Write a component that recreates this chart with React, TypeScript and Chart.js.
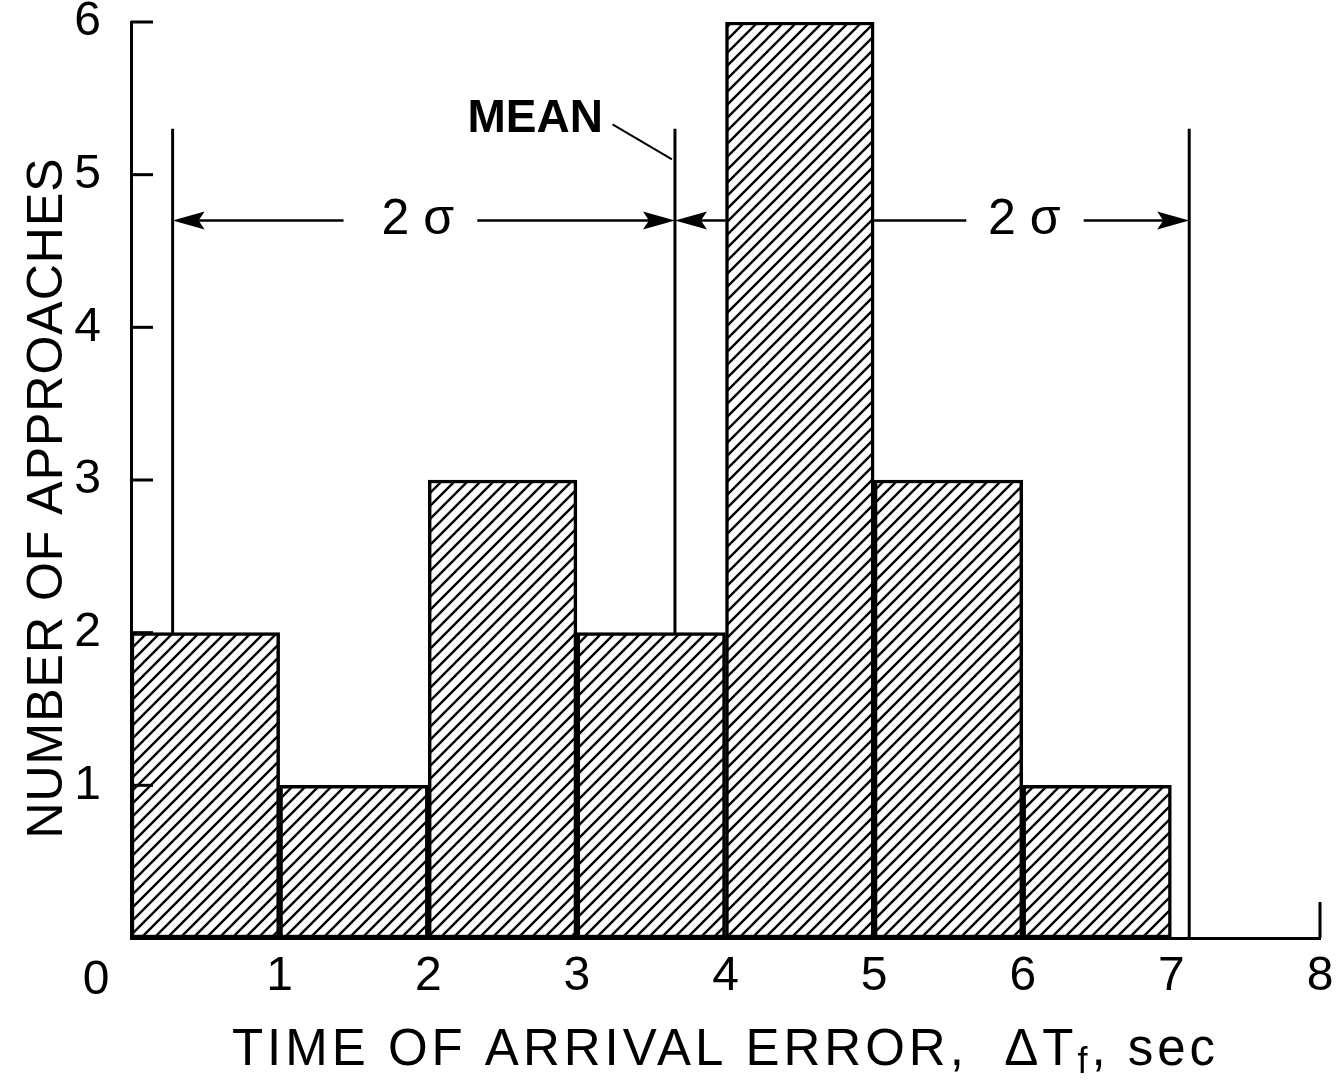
import React, { useEffect, useRef } from "react";
import { Chart, registerables } from "chart.js";

Chart.register(...registerables);

// ---- data ----
const binCenters = [0.5, 1.5, 2.5, 3.5, 4.5, 5.5, 6.5, 7.5];
const counts = [2, 1, 3, 2, 6, 3, 1, 0];
const yTickValues = [0, 1, 2, 3, 4, 5, 6];
const sigmaLowX = 0.28;
const meanX = 3.66;
const sigmaHighX = 7.12;
const markerTop = 5.3;
const arrowY = 4.7;
const arrowFrom = [1.43, 2.33, 4.0, 5.0, 6.41];
const arrowTo = [sigmaLowX, meanX, meanX, 5.62, sigmaHighX];
const arrowHasHead = [true, true, true, false, true];
const sigmaLabelX = [1.93, 6.01];
const sigmaLabel = "2 σ";
const meanLabel = "MEAN";
const meanLabelPos = [2.72, 5.36];
const meanLeaderX = [3.24, 3.64];
const meanLeaderY = [5.33, 5.1];
const xTitleMain = "TIME OF ARRIVAL ERROR,  ΔT";
const xTitleSub = "f";
const xTitleEnd = ", sec";
const yTitle = "NUMBER OF APPROACHES";

const FAMILY = '"Liberation Sans", Arial, sans-serif';

function makeHatch(): CanvasPattern | string {
  const s = 13;
  const c = document.createElement("canvas");
  c.width = s;
  c.height = s;
  const g = c.getContext("2d");
  if (!g) return "#fff";
  g.fillStyle = "#fff";
  g.fillRect(0, 0, s, s);
  g.strokeStyle = "#000";
  g.lineWidth = 2.4;
  g.beginPath();
  g.moveTo(-2, s + 2);
  g.lineTo(s + 2, -2);
  g.moveTo(-2, 2);
  g.lineTo(2, -2);
  g.moveTo(s - 2, s + 2);
  g.lineTo(s + 2, s - 2);
  g.stroke();
  return g.createPattern(c, "repeat") || "#fff";
}

const overlayPlugin = {
  id: "overlay",
  afterDatasetsDraw(chart: any) {
    const { ctx, chartArea } = chart;
    const x = chart.scales.x;
    const y = chart.scales.y;
    ctx.save();
    ctx.strokeStyle = "#000";
    ctx.fillStyle = "#000";
    ctx.lineCap = "butt";

    // inward y ticks
    ctx.lineWidth = 3;
    yTickValues.forEach((v) => {
      if (v === 0) return;
      const py = y.getPixelForValue(v);
      ctx.beginPath();
      ctx.moveTo(chartArea.left, py);
      ctx.lineTo(chartArea.left + 22, py);
      ctx.stroke();
    });
    // upward tick at x max
    const px8 = x.getPixelForValue(x.max);
    ctx.beginPath();
    ctx.moveTo(px8, chartArea.bottom);
    ctx.lineTo(px8, chartArea.bottom - 36);
    ctx.stroke();

    // arrows
    const ay = y.getPixelForValue(arrowY);
    ctx.lineWidth = 2.5;
    arrowFrom.forEach((fx, i) => {
      const p0 = x.getPixelForValue(fx);
      const p1 = x.getPixelForValue(arrowTo[i]);
      const dir = p1 > p0 ? 1 : -1;
      ctx.beginPath();
      ctx.moveTo(p0, ay);
      ctx.lineTo(arrowHasHead[i] ? p1 - dir * 20 : p1, ay);
      ctx.stroke();
      if (arrowHasHead[i]) {
        ctx.beginPath();
        ctx.moveTo(p1, ay);
        ctx.lineTo(p1 - dir * 32, ay - 9);
        ctx.lineTo(p1 - dir * 26, ay);
        ctx.lineTo(p1 - dir * 32, ay + 9);
        ctx.closePath();
        ctx.fill();
      }
    });

    // 2 sigma labels
    ctx.font = `50px ${FAMILY}`;
    ctx.textAlign = "center";
    ctx.textBaseline = "middle";
    sigmaLabelX.forEach((sx) => {
      ctx.fillText(sigmaLabel, x.getPixelForValue(sx), ay);
    });

    // MEAN label and leader
    ctx.font = `bold 46px ${FAMILY}`;
    ctx.fillText(meanLabel, x.getPixelForValue(meanLabelPos[0]), y.getPixelForValue(meanLabelPos[1]));
    ctx.lineWidth = 2;
    ctx.beginPath();
    ctx.moveTo(x.getPixelForValue(meanLeaderX[0]), y.getPixelForValue(meanLeaderY[0]));
    ctx.lineTo(x.getPixelForValue(meanLeaderX[1]), y.getPixelForValue(meanLeaderY[1]));
    ctx.stroke();

    // "0" origin label
    ctx.font = `48px ${FAMILY}`;
    ctx.textAlign = "center";
    ctx.textBaseline = "alphabetic";
    ctx.fillText("0", chartArea.left - 35, chartArea.bottom + 56);

    // x title with subscript
    (ctx as any).letterSpacing = "4px";
    ctx.font = `51px ${FAMILY}`;
    const w1 = ctx.measureText(xTitleMain).width;
    ctx.font = `36px ${FAMILY}`;
    const w2 = ctx.measureText(xTitleSub).width;
    ctx.font = `51px ${FAMILY}`;
    const w3 = ctx.measureText(xTitleEnd).width;
    const total = w1 + w2 + w3;
    const cx = (chartArea.left + chartArea.right) / 2;
    const base = x.bottom - 16;
    let sx0 = cx - total / 2;
    ctx.textAlign = "left";
    ctx.fillText(xTitleMain, sx0, base);
    sx0 += w1;
    ctx.font = `36px ${FAMILY}`;
    ctx.fillText(xTitleSub, sx0, base + 8);
    sx0 += w2;
    ctx.font = `51px ${FAMILY}`;
    ctx.fillText(xTitleEnd, sx0, base);

    // y title
    (ctx as any).letterSpacing = "1px";
    ctx.save();
    ctx.translate(y.left + 62, (chartArea.top + chartArea.bottom) / 2 + 18);
    ctx.rotate(-Math.PI / 2);
    ctx.textAlign = "center";
    ctx.textBaseline = "alphabetic";
    ctx.font = `50px ${FAMILY}`;
    ctx.fillText(yTitle, 0, 0);
    ctx.restore();

    ctx.restore();
  },
};

export default function App() {
  const ref = useRef<HTMLCanvasElement | null>(null);
  useEffect(() => {
    if (!ref.current) return;
    const hatch = makeHatch();
    const lineDs = (vx: number) => ({
      type: "line" as const,
      data: [
        { x: vx, y: 0 },
        { x: vx, y: markerTop },
      ],
      borderColor: "#000",
      borderWidth: 3,
      pointRadius: 0,
      fill: false,
    });
    const chart = new Chart(ref.current, {
      type: "bar",
      data: {
        datasets: [
          {
            type: "bar",
            data: binCenters.map((c, i) => ({ x: c, y: counts[i] })),
            backgroundColor: hatch as any,
            borderColor: "#000",
            borderWidth: 3.5,
            borderSkipped: false,
            barPercentage: 1,
            categoryPercentage: 1,
          } as any,
          lineDs(sigmaLowX) as any,
          lineDs(meanX) as any,
          lineDs(sigmaHighX) as any,
        ],
      },
      options: {
        animation: false,
        responsive: false,
        devicePixelRatio: 1,
        layout: { padding: { top: 22, right: 21, left: 0, bottom: 0 } },
        plugins: { legend: { display: false }, tooltip: { enabled: false } },
        scales: {
          x: {
            type: "linear",
            min: 0,
            max: 8,
            offset: false,
            afterFit: (s: any) => {
              s.height = 143;
              s.paddingLeft = 0;
              s.paddingRight = 0;
            },
            border: { display: true, color: "#000", width: 3 },
            grid: { display: false, drawTicks: false },
            ticks: {
              stepSize: 1,
              autoSkip: false,
              maxRotation: 0,
              color: "#000",
              padding: 10,
              font: { family: FAMILY, size: 48, lineHeight: 1.2 },
              callback: (v: any) => (Number(v) === 0 ? "" : String(v)),
            },
          },
          y: {
            min: 0,
            max: 6,
            afterFit: (s: any) => {
              s.width = 131;
              s.paddingTop = 0;
              s.paddingBottom = 0;
            },
            border: { display: true, color: "#000", width: 3 },
            grid: { display: false, drawTicks: false },
            ticks: {
              stepSize: 1,
              color: "#000",
              padding: 30,
              font: { family: FAMILY, size: 48, lineHeight: 1.2 },
              callback: (v: any) => (Number(v) === 0 ? "" : String(v)),
            },
          },
        },
      },
      plugins: [overlayPlugin],
    });
    return () => chart.destroy();
  }, []);
  return (
    <div style={{ position: "fixed", left: 0, top: 0, width: 1341, height: 1081, background: "#fff" }}>
      <canvas ref={ref} width={1341} height={1081} />
    </div>
  );
}
